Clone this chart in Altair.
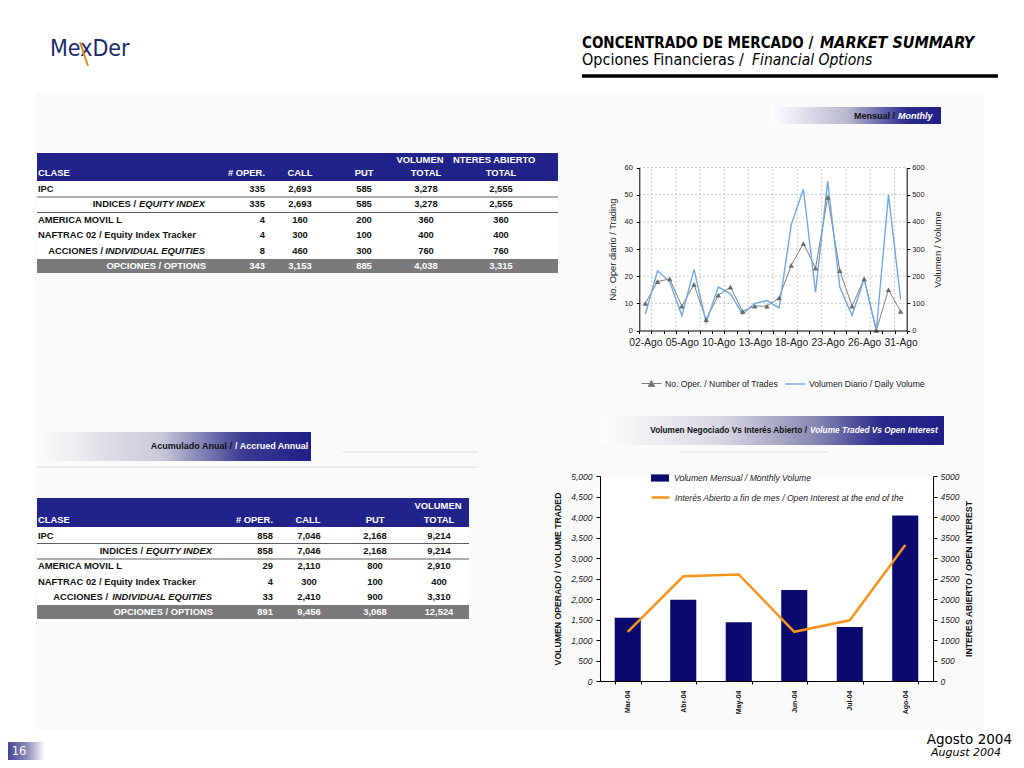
import altair as alt
import pandas as pd

# ---------------- data ----------------
dates = ["02-Ago", "03-Ago", "04-Ago", "05-Ago", "06-Ago", "09-Ago", "10-Ago", "11-Ago",
         "12-Ago", "13-Ago", "16-Ago", "17-Ago", "18-Ago", "19-Ago", "20-Ago", "23-Ago",
         "24-Ago", "25-Ago", "26-Ago", "27-Ago", "30-Ago", "31-Ago"]
trades = [10, 18, 19, 9, 17, 4, 13, 16, 7, 9, 9, 12, 24, 32, 23, 49, 22, 9, 19, 0, 15, 7]
daily_volume = [60, 220, 180, 55, 225, 30, 160, 135, 60, 100, 110, 83, 390, 520, 140, 550,
                160, 55, 190, 0, 500, 115]

months = ["Mar-04", "Abr-04", "May-04", "Jun-04", "Jul-04", "Ago-04"]
monthly_volume = [1540, 1980, 1430, 2220, 1316, 4038]
open_interest = [1200, 2555, 2600, 1200, 1480, 3315]

left_ticks = [0, 10, 20, 30, 40, 50, 60]
right_ticks = [0, 100, 200, 300, 400, 500, 600]
vol_ticks = [0, 500, 1000, 1500, 2000, 2500, 3000, 3500, 4000, 4500, 5000]

t_class = ["IPC", "INDICES /", "AMERICA MOVIL L", "NAFTRAC 02 / Equity Index Tracker",
           "ACCIONES /", "OPCIONES / OPTIONS"]
t_class_it = ["", "EQUITY INDEX", "", "", "INDIVIDUAL EQUITIES", ""]

t1_oper = [335, 335, 4, 4, 8, 343]
t1_call = [2693, 2693, 160, 300, 460, 3153]
t1_put = [585, 585, 200, 100, 300, 885]
t1_vol = [3278, 3278, 360, 400, 760, 4038]
t1_oi = [2555, 2555, 360, 400, 760, 3315]

t2_oper = [858, 858, 29, 4, 33, 891]
t2_call = [7046, 7046, 2110, 300, 2410, 9456]
t2_put = [2168, 2168, 800, 100, 900, 3068]
t2_vol = [9214, 9214, 2910, 400, 3310, 12524]

TR_LABEL = "No. Oper. / Number of Trades"
DV_LABEL = "Volumen Diario / Daily Volume"
MV_LABEL = "Volumen Mensual / Monthly Volume"
OI_LABEL = "Interés Abierto a fin de mes / Open Interest at the end of the"

# ---------------- layout helpers ----------------
W, H = 1008, 752
M = 8
def X(px): return px - M
def Y(py): return py - M

SANS = "Liberation Sans"
DVS = "DejaVu Sans"
DVC = "DejaVu Sans Condensed"
NAVY = "#22228b"
ONE = pd.DataFrame({"k": [0]})


def T(s, x, y, size, font=SANS, weight="normal", style="normal", color="#111",
      align="left", baseline="middle"):
    return alt.Chart(ONE).mark_text(text=s, font=font, fontSize=size, fontWeight=weight,
                                    fontStyle=style, color=color, align=align,
                                    baseline=baseline).encode(x=alt.value(X(x)), y=alt.value(Y(y)))


def R(x1, y1, x2, y2, fill):
    return alt.Chart(ONE).mark_rect(fill=fill).encode(
        x=alt.value(X(x1)), x2=alt.value(X(x2)), y=alt.value(Y(y1)), y2=alt.value(Y(y2)))


def G(x1, y1, x2, y2, stops):
    g = alt.LinearGradient(gradient="linear",
                           stops=[alt.GradientStop(color=c, offset=o) for o, c in stops],
                           x1=0, x2=1, y1=0, y2=0)
    return alt.Chart(ONE).mark_rect(fill=g).encode(
        x=alt.value(X(x1)), x2=alt.value(X(x2)), y=alt.value(Y(y1)), y2=alt.value(Y(y2)))


def HL(x1, x2, y, color, width):
    return alt.Chart(ONE).mark_rule(color=color, strokeWidth=width).encode(
        x=alt.value(X(x1)), x2=alt.value(X(x2)), y=alt.value(Y(y)))


def series(label):
    return "'" + label + "'"


L = []

# ---------------- slide panel ----------------
L.append(R(35, 93, 984, 729, "#fafafa"))

# ---------------- header ----------------
L.append(T("MexDer", 50, 49, 23, font=DVC, color="#1c2a6e"))
L.append(alt.Chart(ONE).mark_rule(color="#e08a2c", strokeWidth=2).encode(
    x=alt.value(X(80)), x2=alt.value(X(88)), y=alt.value(Y(42)), y2=alt.value(Y(66))))
L.append(T("CONCENTRADO DE MERCADO / ", 582, 43, 15, font=DVC, weight="bold", color="#000"))
L.append(T("MARKET SUMMARY", 820, 43, 16, font=DVC, weight="bold", style="italic",
           color="#000"))
L.append(T("Opciones Financieras / ", 582, 60, 16, font=DVC, color="#000"))
L.append(T("Financial Options", 752, 60, 15.5, font=DVC, style="italic", color="#000"))
L.append(HL(582, 998, 76, "#000", 3.5))

# ---------------- banners ----------------
L.append(G(770, 107, 941, 124, [(0, "#ffffff"), (0.45, "#b9b9d0"), (0.8, "#2c2c8e"), (1, "#1f1f88")]))
L.append(T("Mensual /", 895, 115.5, 9, weight="bold", align="right"))
L.append(T("Monthly", 898, 115.5, 9, weight="bold", style="italic", color="white"))

L.append(G(600, 416, 944, 445, [(0, "#fdfdfd"), (0.35, "#d8d8e4"), (0.62, "#8a8ab4"),
                                (0.82, "#2a2a8c"), (1, "#1f1f88")]))
L.append(T("Volumen Negociado Vs Interés Abierto /", 807, 431, 8.3, weight="bold", align="right"))
L.append(T("Volume Traded Vs Open Interest", 810, 431, 8.3, weight="bold",
           style="italic", color="white"))
L.append(HL(680, 828, 452, "#e2e2e2", 1))

L.append(G(40, 432, 311, 461, [(0, "#fafafa"), (0.45, "#c8c8da"), (0.75, "#3a3a92"), (1, "#1f1f88")]))
L.append(T("Acumulado Anual /", 232, 446, 9, weight="bold", align="right"))
L.append(T("/ Accrued Annual", 235, 446, 9, weight="bold", color="white"))
L.append(HL(37, 478, 467, "#dddddd", 1))
L.append(HL(343, 478, 452, "#dddddd", 1))

# ---------------- footer ----------------
L.append(G(0, 742, 45, 768, [(0, "#2a2a8c"), (0.6, "#8c8cb8"), (1, "#ffffff")]))
L.append(T("16", 19, 751.5, 11.5, font=DVS, color="white", align="center"))
L.append(T("Agosto 2004", 1012, 740, 13.5, font=DVS, color="#000", align="right"))
L.append(T("August 2004", 1001, 753, 11, font=DVS, style="italic", color="#000", align="right"))

# ---------------- tables ----------------
TS = 9.4


def table(df, top, hbot, width_r, row0, row5, gray, seps, main_x, it_x, nums, heads):
    out = []
    out.append(R(37, hbot, width_r, gray[0], "#ffffff"))
    out.append(R(37, top, width_r, hbot, NAVY))
    out.append(R(37, gray[0], width_r, gray[1], "#7a7a7a"))
    for s in seps:
        out.append(HL(37, width_r, s, "#333", 0.8))
    for (s, x, y, al) in heads:
        out.append(T(s, x, y, TS, weight="bold", color="white", align=al))
    rs = alt.Scale(type="point", domain=list(range(6)), range=[Y(row0), Y(row5)], padding=0)
    yenc = alt.Y("r:O", scale=rs, axis=None)
    col = alt.condition("datum.r == 5", alt.value("white"), alt.value("#111"))
    base = dict(font=SANS, fontSize=TS, fontWeight="bold", baseline="middle")
    out.append(alt.Chart(df).transform_filter("datum.r == 0 || datum.r == 2 || datum.r == 3")
               .mark_text(align="left", color="#111", **base)
               .encode(x=alt.value(X(38)), y=yenc, text="lab:N"))
    for r, xr in main_x.items():
        out.append(alt.Chart(df).transform_filter(f"datum.r == {r}")
                   .mark_text(align="right", color="#111", **base)
                   .encode(x=alt.value(X(xr)), y=yenc, text="lab:N"))
        out.append(alt.Chart(df).transform_filter(f"datum.r == {r}")
                   .mark_text(align="right", color="#111", fontStyle="italic", **base)
                   .encode(x=alt.value(X(it_x)), y=yenc, text="lab_it:N"))
    out.append(alt.Chart(df).transform_filter("datum.r == 5")
               .mark_text(align="right", color="white", **base)
               .encode(x=alt.value(X(it_x + 1)), y=yenc, text="lab:N"))
    for f, x, al in nums:
        out.append(alt.Chart(df).mark_text(align=al, **base).encode(
            x=alt.value(X(x)), y=yenc, text=alt.Text(f + ":Q", format=",d"), color=col))
    return out


df1 = pd.DataFrame({"r": range(6), "lab": t_class, "lab_it": t_class_it, "oper": t1_oper,
                    "call": t1_call, "put": t1_put, "vol": t1_vol, "oi": t1_oi})
L += table(df1, 153, 181, 558, 189, 266, (259, 273), [197, 212.5], {1: 136, 4: 103}, 205,
           [("oper", 265, "right"), ("call", 300, "center"), ("put", 364, "center"),
            ("vol", 426, "center"), ("oi", 501, "center")],
           [("CLASE", 38, 173, "left"), ("# OPER.", 265, 173, "right"), ("CALL", 300, 173, "center"),
            ("PUT", 364, 173, "center"), ("VOLUMEN", 420, 160, "center"), ("TOTAL", 426, 173, "center"),
            ("NTERES ABIERTO", 453, 160, "left"), ("TOTAL", 501, 173, "center")])

df2 = pd.DataFrame({"r": range(6), "lab": t_class, "lab_it": t_class_it, "oper": t2_oper,
                    "call": t2_call, "put": t2_put, "vol": t2_vol})
L += table(df2, 498, 527, 469, 536, 612, (605, 619), [543.5, 559], {1: 143, 4: 108}, 212,
           [("oper", 273, "right"), ("call", 309, "center"), ("put", 375, "center"),
            ("vol", 439, "center")],
           [("CLASE", 38, 520, "left"), ("# OPER.", 273, 520, "right"), ("CALL", 308, 520, "center"),
            ("PUT", 375, 520, "center"), ("VOLUMEN", 438, 506, "center"), ("TOTAL", 439, 520, "center")])

# ---------------- chart 1: daily trades / volume ----------------
X1L, X1R, Y1B, Y1T = 639.3, 906.7, 330.5, 167.5
daily = pd.DataFrame({"i": range(len(dates)), "d": dates, "trades": trades, "vol": daily_volume})
vgrid = pd.DataFrame({"d": dates[1::2]})
hgrid = pd.DataFrame({"v": left_ticks[1:]})
xb1 = alt.Scale(type="band", domain=dates, range=[X(X1L), X(X1R)], paddingInner=0, paddingOuter=0)
xp1 = alt.Scale(type="point", domain=dates, range=[X(X1L), X(X1R)], padding=0.5)
xq1 = alt.Scale(domain=[0, 1], range=[X(X1L), X(X1R)])
ys1 = alt.Scale(domain=[0, 60], range=[Y(Y1B), Y(Y1T)])
ys1r = alt.Scale(domain=[0, 600], range=[Y(Y1B), Y(Y1T)])
lab_list = "[" + ",".join("'%s'" % d for d in dates) + "]"
GRID = dict(color="#a8a8a8", strokeDash=[1.5, 2.5], strokeWidth=0.8)

L.append(R(X1L, Y1T, X1R, Y1B, "#ffffff"))

L.append(alt.Chart(hgrid).mark_rule(**GRID).encode(
    x=alt.datum(0, scale=xq1, axis=None), x2=alt.datum(1),
    y=alt.Y("v:Q", scale=ys1, axis=None)))

L.append(alt.Chart(vgrid).mark_rule(**GRID).encode(
    x=alt.X("d:N", scale=xb1, bandPosition=0,
            axis=alt.Axis(orient="bottom", offset=Y(Y1B) - H, title=None, tickBand="extent",
                          labelExpr=f"indexof({lab_list}, datum.value) % 3 == 0 ? datum.value : ''",
                          labelAngle=0, labelFont=SANS, labelFontSize=10.3, labelColor="#222",
                          labelPadding=4, tickSize=3, tickColor="#000", domainColor="#000",
                          labelOverlap=False, zindex=1)),
    y=alt.datum(0, scale=ys1, axis=None), y2=alt.datum(60)))

leg1 = dict(orient="none", title=None, padding=0, labelFont=SANS, labelFontSize=8.6,
            labelColor="#222", labelOffset=3, labelLimit=400)

L.append(alt.Chart(daily).transform_calculate(s=series(TR_LABEL)).mark_line(strokeWidth=1).encode(
    x=alt.X("d:N", scale=xp1, axis=None),
    y=alt.Y("trades:Q", scale=ys1,
            axis=alt.Axis(orient="left", offset=-X(X1L), values=left_ticks, grid=False,
                          title="No. Oper diario / Trading", titleFont=SANS, titleFontSize=9.3,
                          titleFontWeight="normal", titleColor="#222", titlePadding=6,
                          labelFont=SANS, labelFontSize=7.5, labelColor="#222", labelPadding=4,
                          tickSize=3, tickColor="#000", domainColor="#000", zindex=1)),
    order="i:Q",
    stroke=alt.Stroke("s:N", scale=alt.Scale(domain=[TR_LABEL], range=["#7f7f7f"]),
                      legend=alt.Legend(legendX=X(641), legendY=Y(373),
                                        symbolType="M-1,0H1M-0.32,0.3L0,-0.3L0.32,0.3Z",
                                        symbolSize=400, symbolStrokeWidth=1,
                                        symbolFillColor="#6e6e6e", **leg1))))

L.append(alt.Chart(daily).transform_calculate(s=series(DV_LABEL)).mark_line(strokeWidth=1.4).encode(
    x=alt.X("d:N", scale=xp1, axis=None),
    y=alt.Y("vol:Q", scale=ys1r,
            axis=alt.Axis(orient="right", offset=X(X1R) - W, values=right_ticks, grid=False,
                          title="Volumen / Volume", titleFont=SANS, titleFontSize=9.5,
                          titleFontWeight="normal", titleColor="#222", titlePadding=8,
                          titleAngle=270, titleBaseline="top",
                          labelFont=SANS, labelFontSize=7.5, labelColor="#222", labelPadding=2,
                          tickSize=3, tickColor="#000", domainColor="#000", zindex=1)),
    order="i:Q",
    stroke=alt.Stroke("s:N", scale=alt.Scale(domain=[DV_LABEL], range=["#6ea8e6"]),
                      legend=alt.Legend(legendX=X(784), legendY=Y(373), symbolType="stroke",
                                        symbolSize=400, symbolStrokeWidth=1.4, **leg1))))

L.append(alt.Chart(daily).mark_point(shape="triangle-up", filled=True, size=30, opacity=1,
                                     color="#6b6b6b").encode(
    x=alt.X("d:N", scale=xp1, axis=None),
    y=alt.Y("trades:Q", scale=ys1, axis=None)))

# ---------------- chart 2: monthly volume vs open interest ----------------
X2L, X2R, Y2B, Y2T = 600, 933, 681, 476
monthly = pd.DataFrame({"i": range(len(months)), "m": months, "vol": monthly_volume,
                        "oi": open_interest})
xb2 = alt.Scale(type="band", domain=months, range=[X(X2L), X(X2R)], paddingInner=0.53,
                paddingOuter=0.265)
xp2 = alt.Scale(type="point", domain=months, range=[X(X2L), X(X2R)], padding=0.5)
ys2 = alt.Scale(domain=[0, 5000], range=[Y(Y2B), Y(Y2T)])
ys2r = alt.Scale(domain=[0, 5000], range=[Y(Y2B), Y(Y2T)])
leg2 = dict(orient="none", title=None, padding=0, labelFont=SANS, labelFontSize=8.6,
            labelFontStyle="italic", labelColor="#222", labelOffset=4, labelLimit=400)

L.append(R(X2L, Y2T, X2R, Y2B, "#ffffff"))

L.append(alt.Chart(monthly).transform_calculate(s=series(MV_LABEL)).mark_bar().encode(
    x=alt.X("m:N", scale=xb2,
            axis=alt.Axis(orient="bottom", offset=Y(Y2B) - H, title=None, tickBand="extent",
                          labelAngle=270, labelFont=SANS, labelFontSize=7, labelFontWeight="bold",
                          labelColor="#111", labelPadding=6, tickSize=3, tickColor="#000",
                          domainColor="#000", zindex=1)),
    y=alt.Y("vol:Q", scale=ys2,
            axis=alt.Axis(orient="left", offset=-X(X2L), values=vol_ticks, format=",d",
                          title="VOLUMEN OPERADO / VOLUME TRADED", titleFont=SANS,
                          titleFontSize=8.7, titleFontWeight="bold", titleColor="#111",
                          titlePadding=8, labelFont=SANS, labelFontSize=8.5,
                          labelFontStyle="italic", labelColor="#222", labelPadding=4,
                          tickSize=4, tickColor="#000", domainColor="#000", zindex=1)),
    fill=alt.Fill("s:N", scale=alt.Scale(domain=[MV_LABEL], range=["#0a0a6e"]),
                  legend=alt.Legend(legendX=X(650), legendY=Y(468),
                                    symbolType="M-1,-0.4H1V0.4H-1Z", symbolSize=324, **leg2))))

L.append(alt.Chart(monthly).transform_calculate(s=series(OI_LABEL)).mark_line(strokeWidth=2.5).encode(
    x=alt.X("m:N", scale=xp2, axis=None),
    y=alt.Y("oi:Q", scale=ys2r,
            axis=alt.Axis(orient="right", offset=X(X2R) - W, values=vol_ticks, format="d",
                          title="INTERES ABIERTO / OPEN INTEREST", titleFont=SANS,
                          titleFontSize=8.7, titleFontWeight="bold", titleColor="#111",
                          titleAngle=270, titleBaseline="top", titlePadding=6,
                          labelFont=SANS, labelFontSize=8.5, labelFontStyle="italic",
                          labelColor="#222", labelPadding=3, tickSize=4, tickColor="#000",
                          domainColor="#000", zindex=1)),
    order="i:Q",
    stroke=alt.Stroke("s:N", scale=alt.Scale(domain=[OI_LABEL], range=["#f7941d"]),
                      legend=alt.Legend(legendX=X(650), legendY=Y(487), symbolType="stroke",
                                        symbolSize=324, symbolStrokeWidth=2.5, **leg2))))

chart = alt.layer(*L).properties(
    width=W, height=H, autosize=alt.AutoSizeParams(type="none"), padding=0, background="white"
).resolve_scale(
    x="independent", y="independent", fill="independent", stroke="independent", color="independent"
).resolve_legend(
    fill="independent", stroke="independent", color="independent"
).configure_view(stroke=None)

chart.save("out.html", embed_options={"renderer": "svg", "actions": False})
